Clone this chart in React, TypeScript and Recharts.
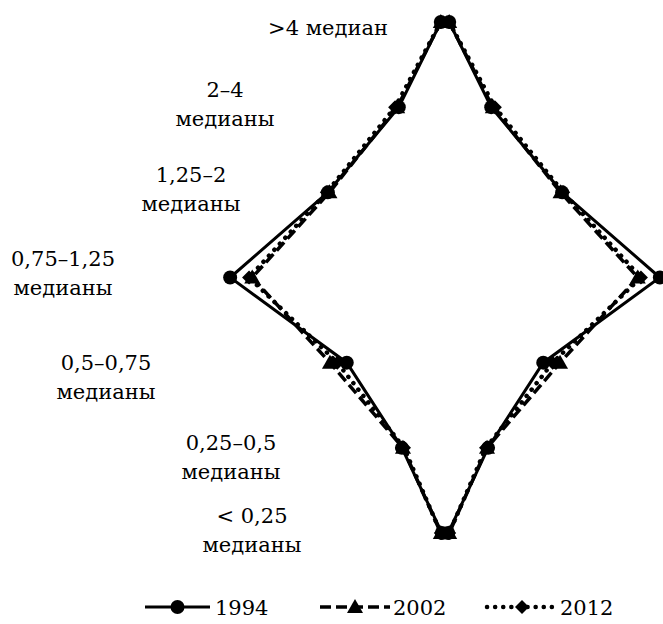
import { LineChart, Line, XAxis, YAxis } from "recharts";

// категории доходных групп (сверху вниз)
const categories = [
  ">4 медиан",
  "2–4\nмедианы",
  "1,25–2\nмедианы",
  "0,75–1,25\nмедианы",
  "0,5–0,75\nмедианы",
  "0,25–0,5\nмедианы",
  "< 0,25\nмедианы",
];

const years = ["1994", "2002", "2012"];

const values1994 = [0.8, 8.8, 22.3, 40.9, 18.7, 8.2, 0.6];
const values2002 = [0.8, 9.1, 22.0, 36.7, 21.9, 8.0, 0.8];
const values2012 = [0.8, 9.5, 22.5, 37.3, 20.5, 7.8, 0.8];

const chartData = categories.map((cat, i) => ({
  cat,
  l1994: -values1994[i],
  r1994: values1994[i],
  l2002: -values2002[i],
  r2002: values2002[i],
  l2012: -values2012[i],
  r2012: values2012[i],
}));

const FONT = "'DejaVu Serif', 'Liberation Serif', 'Times New Roman', serif";
const FS = 21;
const W = 663;
const H = 624;

// подписи стоят лесенкой слева от фигуры
const labelLayout = [
  { x: 328, dy: 13 },
  { x: 225, dy: -10 },
  { x: 191, dy: -10 },
  { x: 63, dy: -12 },
  { x: 106, dy: 7 },
  { x: 231, dy: 2 },
  { x: 252, dy: -10 },
];

const styles: Record<string, { dash?: string; width: number; cap: "butt" | "round"; marker: string }> = {
  "1994": { width: 3, cap: "butt", marker: "circle" },
  "2002": { dash: "11 5", width: 3.5, cap: "butt", marker: "triangle" },
  "2012": { dash: "0.1 8", width: 4.5, cap: "round", marker: "diamond" },
};

function Marker({ cx, cy, kind }: { cx: number; cy: number; kind: string }) {
  if (cx == null || cy == null) return null;
  if (kind === "circle") return <circle cx={cx} cy={cy} r={7} fill="#000" />;
  if (kind === "triangle")
    return <polygon points={`${cx},${cy - 8} ${cx + 8},${cy + 6} ${cx - 8},${cy + 6}`} fill="#000" />;
  return <polygon points={`${cx},${cy - 7} ${cx + 7},${cy} ${cx},${cy + 7} ${cx - 7},${cy}`} fill="#000" />;
}

const renderTick = (props: any) => {
  const { y, payload, index } = props;
  const pos = labelLayout[index] || { x: 100, dy: 0 };
  const lines = String(payload.value).split("\n");
  return (
    <text
      key={index}
      x={pos.x}
      y={y + pos.dy}
      textAnchor="middle"
      style={{ fontFamily: FONT, fontSize: FS }}
      fill="#000"
    >
      {lines.map((ln, k) => (
        <tspan key={k} x={pos.x} dy={k === 0 ? 0 : 29}>
          {ln}
        </tspan>
      ))}
    </text>
  );
};

function LegendRow() {
  const items = [
    { year: "1994", x1: 145, x2: 210, tx: 215 },
    { year: "2002", x1: 320, x2: 390, tx: 393 },
    { year: "2012", x1: 487, x2: 557, tx: 560 },
  ];
  return (
    <svg width={W} height={40} style={{ position: "absolute", left: 0, top: 590 }}>
      {items.map((it) => {
        const s = styles[it.year];
        const mid = (it.x1 + it.x2) / 2;
        return (
          <g key={it.year}>
            <line
              x1={it.x1}
              x2={it.x2}
              y1={17}
              y2={17}
              stroke="#000"
              strokeWidth={s.width}
              strokeDasharray={s.dash}
              strokeLinecap={s.cap}
            />
            <Marker cx={mid} cy={17} kind={s.marker} />
            <text x={it.tx} y={25} style={{ fontFamily: FONT, fontSize: FS }} fill="#000">
              {it.year}
            </text>
          </g>
        );
      })}
    </svg>
  );
}

export default function App() {
  return (
    <div style={{ position: "absolute", left: 0, top: 0, width: W, height: H, background: "#fff", fontFamily: FONT }}>
      <LineChart
        width={W}
        height={H}
        data={chartData}
        layout="vertical"
        margin={{ top: 22, right: 0, bottom: 91, left: 226 }}
        style={{ overflow: "visible" }}
      >
        <XAxis type="number" domain={[-41.5, 41.5]} hide />
        <YAxis
          type="category"
          dataKey="cat"
          width={1}
          axisLine={false}
          tickLine={false}
          interval={0}
          tick={renderTick}
        />
        {years.flatMap((yr) =>
          ["l", "r"].map((side) => {
            const s = styles[yr];
            return (
              <Line
                key={side + yr}
                dataKey={side + yr}
                type="linear"
                stroke="#000"
                strokeWidth={s.width}
                strokeDasharray={s.dash}
                strokeLinecap={s.cap}
                dot={(p: any) => <Marker key={p.index} cx={p.cx} cy={p.cy} kind={s.marker} />}
                activeDot={false}
                isAnimationActive={false}
                legendType="none"
              />
            );
          })
        )}
      </LineChart>
      <LegendRow />
    </div>
  );
}
